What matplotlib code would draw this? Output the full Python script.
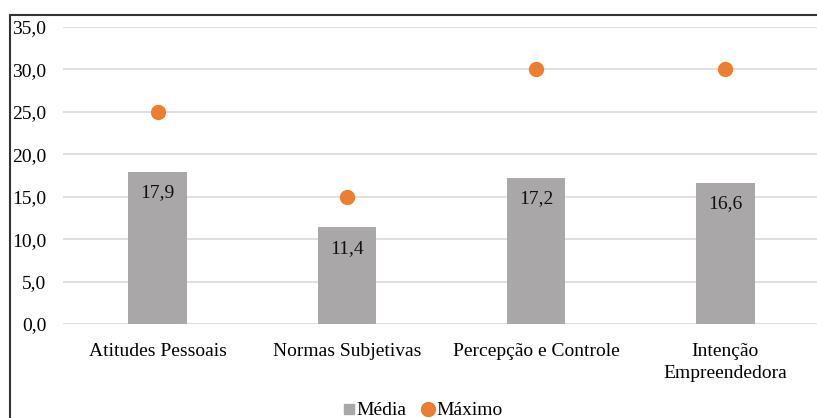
import matplotlib
matplotlib.use("Agg")
import matplotlib.pyplot as plt
from matplotlib.lines import Line2D
from matplotlib.patches import Rectangle

categories = ["Atitudes Pessoais", "Normas Subjetivas", "Percepção e Controle",
              "Intenção\nEmpreendedora"]
media = [17.9, 11.4, 17.2, 16.6]
maximo = [25, 15, 30, 30]
yticks = [0, 5, 10, 15, 20, 25, 30, 35]

plt.rcParams["font.family"] = ["Liberation Serif", "DejaVu Serif"]

fig = plt.figure(figsize=(8.17, 4.18), dpi=100)
ax = fig.add_axes([63 / 817, 1 - 324 / 418, 757 / 817, 297 / 418])

x = list(range(len(categories)))
ax.bar(x, media, width=0.31, color="#A9A7A7", zorder=2)
ax.plot(x, maximo, linestyle="none", marker="o", markersize=10,
        color="#ED7D31", zorder=3)

for xi, v in zip(x, media):
    ax.annotate(f"{v:.1f}".replace(".", ","), (xi, v), xytext=(0, -15),
                textcoords="offset points", ha="center", va="center",
                fontsize=14, color="#111111", zorder=4)

ax.set_xlim(-0.5, len(categories) - 0.5)
ax.set_ylim(0, 35)
ax.set_yticks(yticks)
ax.set_yticklabels([f"{t:.1f}".replace(".", ",") for t in yticks], fontsize=14)
ax.set_xticks(x)
ax.set_xticklabels(categories, fontsize=14, linespacing=1.35)
ax.tick_params(axis="x", length=0, pad=14)
ax.tick_params(axis="y", length=0, pad=12)
ax.yaxis.grid(True, color="#D9D9D9", linewidth=1.2, zorder=0)
for s in ax.spines.values():
    s.set_visible(False)

# outer frame
fig.patches.append(Rectangle((10 / 817, -0.05), 1.1, 1 - 15 / 418 + 0.05,
                             transform=fig.transFigure, fill=False,
                             edgecolor="#333333", linewidth=1.5))

handles = [
    Line2D([], [], linestyle="none", marker="s", markersize=7, color="#A9A7A7"),
    Line2D([], [], linestyle="none", marker="o", markersize=10, color="#ED7D31"),
]
fig.legend(handles, ["Média", "Máximo"], loc="lower center",
           bbox_to_anchor=(0.515, -0.045), ncol=2, frameon=False, fontsize=14,
           handletextpad=-0.1, columnspacing=0.6, handlelength=1.0)

fig.savefig("out.png", dpi=100)
